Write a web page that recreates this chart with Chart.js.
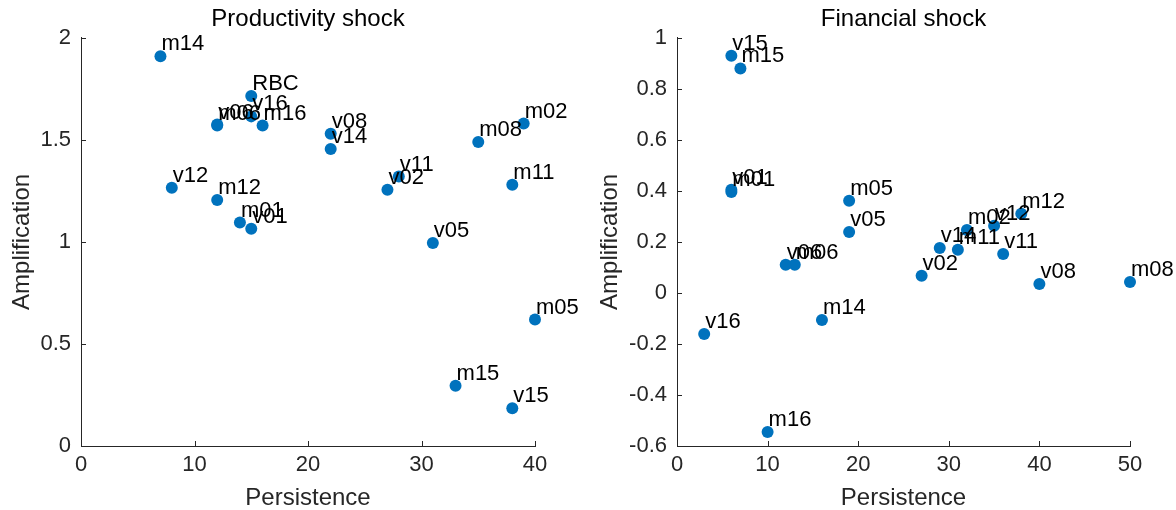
<!DOCTYPE html>
<html><head><meta charset="utf-8">
<script src="https://cdn.jsdelivr.net/npm/chart.js@4.4.1/dist/chart.umd.min.js"></script>
<style>
html,body{margin:0;padding:0;background:#fff;overflow:hidden}
#wrap{position:relative;width:1176px;height:510px;background:#fff}
canvas{position:absolute;top:0}
</style></head><body>
<div id="wrap">
<canvas id="c1" width="588" height="510" style="left:0"></canvas>
<canvas id="c2" width="588" height="510" style="left:588px"></canvas>
</div>
<script>
// ---- data ----
const prodLabels        = ['m14','RBC','v16','m06','v06','m16','v08','v14','v12','m12','m01','v01','v11','v02','m08','m02','m11','v05','m05','m15','v15'];
const prodPersistence   = [7, 15, 15, 12, 12, 16, 22, 22, 8, 12, 14, 15, 28, 27, 35, 39, 38, 31, 40, 33, 38];
const prodAmplification = [1.91, 1.715, 1.615, 1.57, 1.575, 1.57, 1.53, 1.455, 1.265, 1.205, 1.095, 1.065, 1.32, 1.255, 1.49, 1.58, 1.28, 0.995, 0.62, 0.295, 0.185];

const finLabels        = ['v15','m15','v01','m01','m05','v05','v06','m06','v14','m11','m02','v12','m12','v11','v02','v08','m08','m14','v16','m16'];
const finPersistence   = [6, 7, 6, 6, 19, 19, 12, 13, 29, 31, 32, 35, 38, 36, 27, 40, 50, 16, 3, 10];
const finAmplification = [0.93, 0.88, 0.404, 0.396, 0.361, 0.239, 0.11, 0.11, 0.176, 0.169, 0.247, 0.263, 0.31, 0.153, 0.067, 0.035, 0.043, -0.106, -0.161, -0.545];

const prodXTicks = [0, 10, 20, 30, 40];
const prodYTicks = [0, 0.5, 1, 1.5, 2];
const finXTicks  = [0, 10, 20, 30, 40, 50];
const finYTicks  = [-0.6, -0.4, -0.2, 0, 0.2, 0.4, 0.6, 0.8, 1];

const panelTitles = ['Productivity shock', 'Financial shock'];
const xAxisTitle = 'Persistence';
const yAxisTitle = 'Amplification';

// ---- styling ----
const FONT = '"Liberation Sans", Arial, Helvetica, sans-serif';
const AXIS_COLOR = '#262626';
const POINT_COLOR = '#0072BD';
Chart.defaults.font.family = FONT;

const inwardTicks = {
  id: 'inwardTicks',
  beforeDatasetsDraw(chart) {
    const {ctx, chartArea: a, scales: {x, y}} = chart;
    ctx.save();
    ctx.strokeStyle = AXIS_COLOR;
    ctx.lineWidth = 1;
    ctx.beginPath();
    x.ticks.forEach(t => {
      const px = Math.round(x.getPixelForValue(t.value)) + 0.5;
      ctx.moveTo(px, a.bottom); ctx.lineTo(px, a.bottom - 5);
    });
    y.ticks.forEach(t => {
      const py = Math.round(y.getPixelForValue(t.value)) + 0.5;
      ctx.moveTo(a.left, py); ctx.lineTo(a.left + 5, py);
    });
    ctx.stroke();
    ctx.restore();
  }
};

const pointLabels = {
  id: 'pointLabels',
  afterDatasetsDraw(chart) {
    const ctx = chart.ctx;
    const meta = chart.getDatasetMeta(0);
    const names = chart.data.labels;
    ctx.save();
    ctx.font = '22px ' + FONT;
    ctx.fillStyle = '#000';
    ctx.textAlign = 'left';
    ctx.textBaseline = 'middle';
    meta.data.forEach((el, i) => ctx.fillText(names[i], el.x + 1, el.y - 12));
    ctx.restore();
  }
};

function makeChart(id, names, xs, ys, xTicks, yTicks, title, yWidth, padRight) {
  const pts = xs.map((v, i) => ({x: v, y: ys[i]}));
  return new Chart(document.getElementById(id), {
    type: 'scatter',
    data: {
      labels: names,
      datasets: [{
        data: pts,
        backgroundColor: POINT_COLOR,
        borderColor: POINT_COLOR,
        pointRadius: 6,
        pointBorderWidth: 0,
        clip: false
      }]
    },
    options: {
      responsive: false,
      animation: false,
      events: [],
      layout: {padding: {left: 0, right: padRight, top: 0, bottom: 0}},
      plugins: {
        legend: {display: false},
        tooltip: {enabled: false},
        title: {
          display: true, text: title, fullSize: false, color: '#000',
          font: {size: 24, weight: 'normal', family: FONT, lineHeight: 1.2},
          padding: {top: 5, bottom: 4}
        }
      },
      scales: {
        x: {
          type: 'linear', min: xTicks[0], max: xTicks[xTicks.length - 1],
          afterBuildTicks: s => { s.ticks = xTicks.map(v => ({value: v})); },
          afterFit: s => { s.height = 64; },
          grid: {display: false, drawTicks: false},
          border: {display: true, color: AXIS_COLOR, width: 1},
          ticks: {color: AXIS_COLOR, font: {size: 22}, padding: 6, maxRotation: 0, callback: v => String(v)},
          title: {display: true, text: xAxisTitle, color: AXIS_COLOR, font: {size: 24, lineHeight: 1.0}, padding: {top: 0, bottom: 0}}
        },
        y: {
          type: 'linear', min: yTicks[0], max: yTicks[yTicks.length - 1],
          afterBuildTicks: s => { s.ticks = yTicks.map(v => ({value: v})); },
          afterFit: s => { s.width = yWidth; },
          grid: {display: false, drawTicks: false},
          border: {display: true, color: AXIS_COLOR, width: 1},
          ticks: {color: AXIS_COLOR, font: {size: 22}, padding: 10, callback: v => String(v)},
          title: {display: true, text: yAxisTitle, color: AXIS_COLOR, font: {size: 24, lineHeight: 1.2}, padding: {top: 8, bottom: 0}}
        }
      }
    },
    plugins: [inwardTicks, pointLabels]
  });
}

makeChart('c1', prodLabels, prodPersistence, prodAmplification, prodXTicks, prodYTicks, panelTitles[0], 81, 53);
makeChart('c2', finLabels, finPersistence, finAmplification, finXTicks, finYTicks, panelTitles[1], 89, 46);
</script>
</body></html>
